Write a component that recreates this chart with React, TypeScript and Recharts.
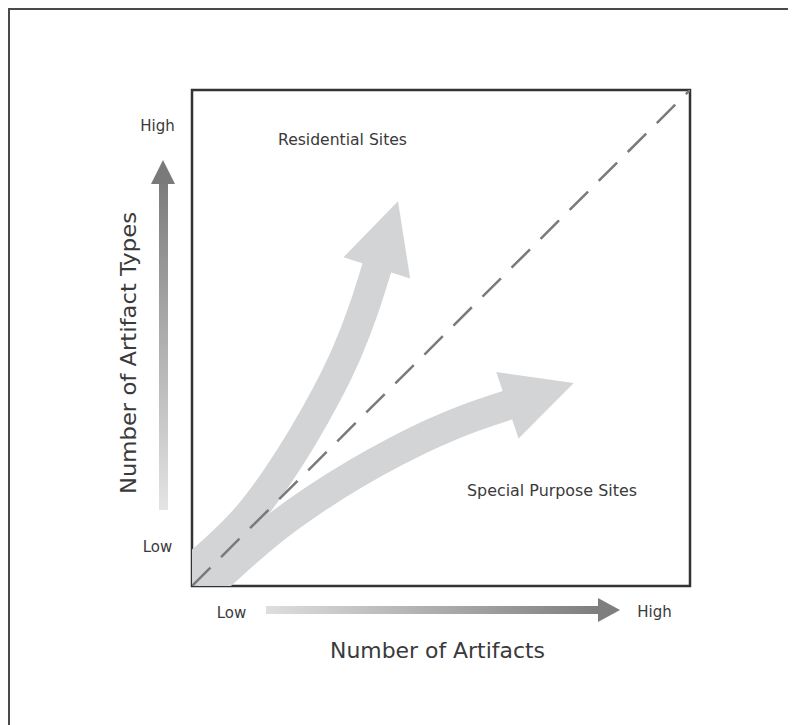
import { LineChart, Line, XAxis, YAxis, ReferenceArea } from "recharts";

// centre lines of the two trend arrows in plot units (0..100 on both axes)
const residentialX = [-2.4, 4.7, 11.2, 17.1, 22.3, 27.0, 31.1, 34.5, 37.35];
const residentialY = [1.3, 7.5, 14.1, 22.0, 30.2, 38.6, 47.1, 55.9, 64.9];
const specialX = [2.0, 9.3, 16.8, 24.7, 32.8, 40.7, 48.6, 56.4, 64.1];
const specialY = [-1.2, 5.4, 11.8, 17.5, 22.6, 27.0, 30.9, 34.1, 36.7];
const parityX = [0, 100];
const parityY = [0, 100];

const zip = (xs: number[], ys: number[]) => xs.map((x, i) => ({ x, y: ys[i] }));

const residential = zip(residentialX, residentialY);
const special = zip(specialX, specialY);
const parity = zip(parityX, parityY);

const BAND = "#d3d4d6";
const INK = "#3a3a3a";
const FONT = "'DejaVu Sans', sans-serif";

// arrow head drawn on the last point of a band, pointing along the last segment
function arrowHead(props: any) {
  const { index, points, cx, cy } = props;
  if (!points || index !== points.length - 1) return <g key={`d-${index}`} />;
  const prev = points[index - 1];
  let dx = cx - prev.x;
  let dy = cy - prev.y;
  const len = Math.hypot(dx, dy) || 1;
  dx /= len;
  dy /= len;
  const bx = cx - 4 * dx;
  const by = cy - 4 * dy;
  const L = 70;
  const W = 35;
  const tip = [bx + L * dx, by + L * dy];
  const c1 = [bx - W * dy, by + W * dx];
  const c2 = [bx + W * dy, by - W * dx];
  return (
    <polygon
      key={`head-${index}`}
      points={`${c1[0]},${c1[1]} ${tip[0]},${tip[1]} ${c2[0]},${c2[1]}`}
      fill={BAND}
      stroke="none"
    />
  );
}

export default function App() {
  return (
    <div
      style={{
        position: "relative",
        width: 788,
        height: 717,
        boxSizing: "border-box",
        borderTop: "2px solid #4a4a4a",
        borderLeft: "2px solid #4a4a4a",
        background: "#fff",
      }}
    >
      <LineChart width={786} height={715} margin={{ top: 80, right: 106, bottom: 139, left: 182 }}>
        <XAxis type="number" dataKey="x" domain={[0, 100]} allowDataOverflow hide />
        <YAxis type="number" dataKey="y" domain={[0, 100]} allowDataOverflow hide />
        <Line
          data={residential}
          dataKey="y"
          type="natural"
          stroke={BAND}
          strokeWidth={30}
          strokeLinecap="butt"
          dot={arrowHead}
          activeDot={false}
          isAnimationActive={false}
        />
        <Line
          data={special}
          dataKey="y"
          type="natural"
          stroke={BAND}
          strokeWidth={30}
          strokeLinecap="butt"
          dot={arrowHead}
          activeDot={false}
          isAnimationActive={false}
        />
        <Line
          data={parity}
          dataKey="y"
          type="linear"
          stroke="#7a7a7a"
          strokeWidth={2.5}
          strokeDasharray="26 15"
          dot={false}
          activeDot={false}
          isAnimationActive={false}
        />
        <ReferenceArea x1={0} x2={100} y1={0} y2={100} fill="none" fillOpacity={0} stroke="#333" strokeWidth={2.5} />
      </LineChart>

      <svg
        width={786}
        height={715}
        style={{ position: "absolute", left: 0, top: 0, pointerEvents: "none" }}
      >
        <defs>
          <linearGradient id="vgrad" x1="0" y1="1" x2="0" y2="0">
            <stop offset="0" stopColor="#e4e4e4" />
            <stop offset="1" stopColor="#7c7c7c" />
          </linearGradient>
          <linearGradient id="hgrad" x1="0" y1="0" x2="1" y2="0">
            <stop offset="0" stopColor="#dedede" />
            <stop offset="1" stopColor="#7e7e7e" />
          </linearGradient>
        </defs>
        <g transform="translate(-10,-10)" fontFamily={FONT} fill={INK}>
          {/* y direction arrow */}
          <rect x={159} y={183} width={9} height={327} fill="url(#vgrad)" />
          <polygon points="151,184 175,184 163,160" fill="#7a7a7a" />
          {/* x direction arrow */}
          <rect x={266} y={606} width={333} height={8} fill="url(#hgrad)" />
          <polygon points="598,598 598,622 620,610" fill="#7e7e7e" />

          <text x={157.5} y={131} fontSize={15} textAnchor="middle">High</text>
          <text x={157.5} y={552} fontSize={15} textAnchor="middle">Low</text>
          <text x={231.5} y={618} fontSize={15} textAnchor="middle">Low</text>
          <text x={654.5} y={617} fontSize={15} textAnchor="middle">High</text>

          <text x={278} y={145} fontSize={15.5} textLength={129} lengthAdjust="spacingAndGlyphs">
            Residential Sites
          </text>
          <text x={467} y={496} fontSize={15.5} textLength={170} lengthAdjust="spacingAndGlyphs">
            Special Purpose Sites
          </text>

          <text x={437.5} y={658} fontSize={21} textAnchor="middle" textLength={215} lengthAdjust="spacingAndGlyphs">
            Number of Artifacts
          </text>
          <text
            x={136}
            y={353}
            fontSize={21}
            textAnchor="middle"
            textLength={282}
            lengthAdjust="spacingAndGlyphs"
            transform="rotate(-90 136 353)"
          >
            Number of Artifact Types
          </text>
        </g>
      </svg>
    </div>
  );
}
